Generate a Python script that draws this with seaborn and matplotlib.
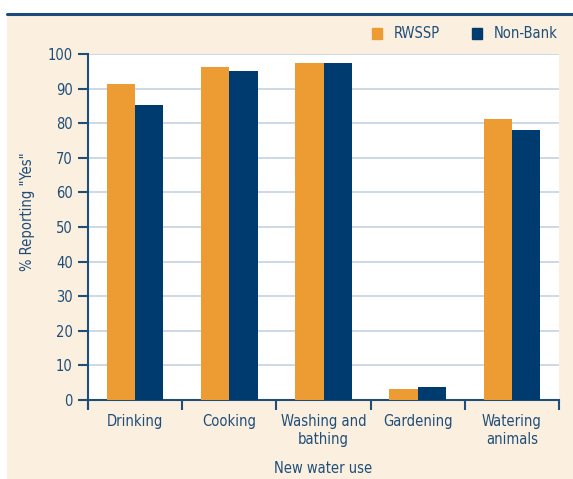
import matplotlib
matplotlib.use("Agg")
import matplotlib.pyplot as plt
import matplotlib.patches as mpatches
import matplotlib.lines as mlines
import seaborn as sns
import pandas as pd

categories = ["Drinking", "Cooking", "Washing and\nbathing", "Gardening", "Watering\nanimals"]
rwssp = [91.2, 96.1, 97.3, 3.1, 81.3]
nonbank = [85.2, 95.0, 97.3, 3.7, 78.0]
series = ["RWSSP", "Non-Bank"]
yticks = [0, 10, 20, 30, 40, 50, 60, 70, 80, 90, 100]

df = pd.DataFrame({
    "use": categories * 2,
    "value": rwssp + nonbank,
    "group": [series[0]] * len(categories) + [series[1]] * len(categories),
})

sns.set_style("white")
plt.rcParams["font.family"] = ["DejaVu Sans"]
plt.rcParams["font.stretch"] = "condensed"

ORANGE = "#ED9B33"
NAVY = "#003B6F"
TEXT = "#1F4E79"
BEIGE = "#FBEFDF"
GRID = "#C3D2E0"
FS = 10.5

fig = plt.figure(figsize=(5.73, 4.79), dpi=100)
fig.patch.set_facecolor("white")
fig.patches.append(mpatches.Rectangle((7 / 573, 0), 1 - 7 / 573, 1 - 15 / 479,
                                      transform=fig.transFigure, facecolor=BEIGE,
                                      edgecolor="none", zorder=-10))
fig.lines.append(mlines.Line2D([7 / 573, 1], [1 - 14 / 479, 1 - 14 / 479],
                               transform=fig.transFigure, color="#1A4B7C", lw=2.2))

ax = fig.add_axes([88 / 573, 79 / 479, (559 - 88) / 573, (400 - 54) / 479])
ax.set_facecolor("white")

sns.barplot(data=df, x="use", y="value", hue="group", hue_order=series,
            palette=[ORANGE, NAVY], width=0.6, ax=ax, saturation=1,
            legend=False, zorder=3)
for p in ax.patches:
    p.set_edgecolor("none")

ax.set_ylim(0, 100)
ax.set_xlim(-0.5, len(categories) - 0.5)
ax.set_yticks(yticks)
ax.yaxis.grid(True, color=GRID, lw=1.2, zorder=0)
ax.set_axisbelow(True)

ax.set_xticks([i + 0.5 for i in range(-1, len(categories))], minor=False)
ax.set_xticklabels([])
ax.set_xticks(range(len(categories)), minor=True)
ax.set_xticklabels(categories, minor=True)
ax.tick_params(axis="x", which="major", bottom=True, direction="out", length=7,
               width=1.5, color="#1F4E79")
ax.tick_params(axis="x", which="minor", bottom=False, length=0, pad=10,
               labelsize=FS, labelcolor=TEXT)
ax.tick_params(axis="y", left=True, direction="out", length=7, width=1.5,
               color="#1F4E79", labelsize=FS, labelcolor=TEXT, pad=4)

for s in ["top", "right"]:
    ax.spines[s].set_visible(False)
for s in ["left", "bottom"]:
    ax.spines[s].set_color("#1F4E79")
    ax.spines[s].set_linewidth(1.5)
ax.spines["left"].set_bounds(-2.2, 100)

ax.set_xlabel("New water use", fontsize=FS, color=TEXT, labelpad=10)
ax.set_ylabel('% Reporting "Yes"', fontsize=FS, color=TEXT)
ax.yaxis.set_label_coords(-0.112, 0.545)
for lab in ax.get_xticklabels(minor=True):
    lab.set_linespacing(1.3)

handles = [mpatches.Patch(color=ORANGE, label=series[0]),
           mpatches.Patch(color=NAVY, label=series[1])]
fig.legend(handles=handles, loc="center right", bbox_to_anchor=(571 / 573, 1 - 34 / 479),
           ncol=2, frameon=False, fontsize=FS, handlelength=0.7, handleheight=0.7,
           columnspacing=2.2, handletextpad=0.8, labelcolor=TEXT)

fig.savefig("out.png", dpi=100, facecolor=fig.get_facecolor())
